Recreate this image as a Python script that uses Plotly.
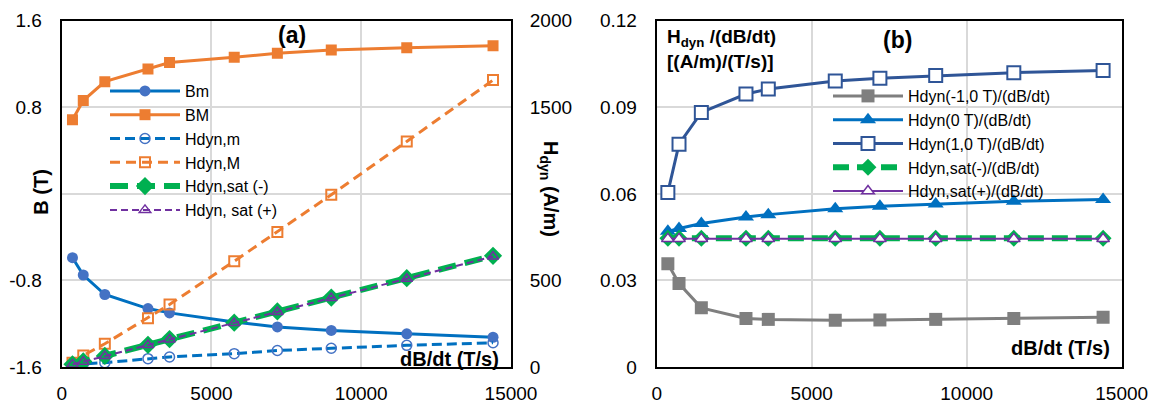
import plotly.graph_objects as go

W, H = 1158, 405

# ---------------- data ----------------
dBdt = [360, 720, 1440, 2880, 3600, 5760, 7200, 9000, 11520, 14400]

# panel (a)
B_m = [-0.59, -0.75, -0.93, -1.06, -1.10, -1.185, -1.23, -1.262, -1.293, -1.325]
B_M = [0.684, 0.862, 1.037, 1.154, 1.213, 1.262, 1.299, 1.330, 1.351, 1.368]
Hdyn_m = [12, 18, 25, 48, 58, 77, 95, 108, 125, 140]
Hdyn_M = [25, 67, 134, 282, 361, 611, 780, 995, 1302, 1657]
Hdyn_sat_neg = [16, 32, 64, 128, 161, 256, 321, 401, 513, 642]
Hdyn_sat_pos = [15, 31, 63, 127, 159, 254, 318, 398, 510, 638]

# panel (b)
r_m10 = [0.0358, 0.0289, 0.0205, 0.0168, 0.0165, 0.0162, 0.0163, 0.0165, 0.0168, 0.0172]
r_0 = [0.0470, 0.0480, 0.0497, 0.0520, 0.0528, 0.0548, 0.0557, 0.0565, 0.0574, 0.0580]
r_p10 = [0.0605, 0.0772, 0.0882, 0.0946, 0.0963, 0.0991, 0.1001, 0.1010, 0.1020, 0.1027]
r_sat_neg = [0.0446, 0.0446, 0.0446, 0.0446, 0.0446, 0.0446, 0.0446, 0.0446, 0.0446, 0.0446]
r_sat_pos = [0.0444, 0.0444, 0.0444, 0.0444, 0.0444, 0.0444, 0.0444, 0.0444, 0.0444, 0.0444]

x_ticks = [0, 5000, 10000, 15000]
x_ticktext = ["0", "5000", "10000", "15000"]
B_ticks = [-1.6, -0.8, 0.8, 1.6]
B_ticktext = ["-1.6", "-0.8", "0.8", "1.6"]
B_hidden_grid = [0]
H_ticks = [0, 500, 1500, 2000]
H_ticktext = ["0", "500", "1500", "2000"]
r_ticks = [0, 0.03, 0.06, 0.09, 0.12]
r_ticktext = ["0", "0.03", "0.06", "0.09", "0.12"]

FONT = "Liberation Sans, Arial, sans-serif"
BLUE = "#0070C0"
BLUE_M = "#4472C4"
ORANGE = "#ED7D31"
GREEN = "#00B050"
PURPLE = "#7030A0"
GRAY = "#7F7F7F"
DKBLUE = "#2F5597"
GRID = "#D9D9D9"


def px(x):
    return x / W


def py(y):
    return 1 - y / H


fig = go.Figure()

# ---------- panel (a) ----------
fig.add_trace(go.Scatter(x=dBdt, y=B_m, name="Bm", mode="lines+markers",
                         line=dict(color=BLUE, width=3),
                         marker=dict(symbol="circle", size=11, color=BLUE_M),
                         xaxis="x", yaxis="y", legend="legend"))
fig.add_trace(go.Scatter(x=dBdt, y=B_M, name="BM", mode="lines+markers",
                         line=dict(color=ORANGE, width=3),
                         marker=dict(symbol="square", size=11, color=ORANGE),
                         xaxis="x", yaxis="y", legend="legend"))
fig.add_trace(go.Scatter(x=dBdt, y=Hdyn_m, name="Hdyn,m", mode="lines+markers",
                         line=dict(color=BLUE, width=3, dash="10px,5px"),
                         marker=dict(symbol="circle-open", size=10, color=BLUE_M,
                                     line=dict(width=1.5, color=BLUE_M)),
                         xaxis="x", yaxis="y2", legend="legend"))
fig.add_trace(go.Scatter(x=dBdt, y=Hdyn_M, name="Hdyn,M", mode="lines+markers",
                         line=dict(color=ORANGE, width=3, dash="10px,6px"),
                         marker=dict(symbol="square-open", size=10, color=ORANGE,
                                     line=dict(width=2, color=ORANGE)),
                         xaxis="x", yaxis="y2", legend="legend"))
fig.add_trace(go.Scatter(x=dBdt, y=Hdyn_sat_neg, name="Hdyn,sat (-)", mode="lines+markers",
                         line=dict(color=GREEN, width=6, dash="18px,9px"),
                         marker=dict(symbol="diamond", size=14, color=GREEN),
                         xaxis="x", yaxis="y2", legend="legend"))
fig.add_trace(go.Scatter(x=dBdt, y=Hdyn_sat_pos, name="Hdyn, sat (+)", mode="lines+markers",
                         line=dict(color=PURPLE, width=2, dash="7px,4px"),
                         marker=dict(symbol="triangle-up-open", size=10, color=PURPLE,
                                     line=dict(width=1.5, color=PURPLE)),
                         xaxis="x", yaxis="y2", legend="legend"))

# ---------- panel (b) ----------
fig.add_trace(go.Scatter(x=dBdt, y=r_m10, name="Hdyn(-1,0 T)/(dB/dt)", mode="lines+markers",
                         line=dict(color=GRAY, width=3),
                         marker=dict(symbol="square", size=13, color=GRAY),
                         xaxis="x2", yaxis="y3", legend="legend2"))
fig.add_trace(go.Scatter(x=dBdt, y=r_0, name="Hdyn(0 T)/(dB/dt)", mode="lines+markers",
                         line=dict(color=BLUE, width=3),
                         marker=dict(symbol="triangle-up", size=14, color=BLUE),
                         xaxis="x2", yaxis="y3", legend="legend2"))
fig.add_trace(go.Scatter(x=dBdt, y=r_p10, name="Hdyn(1,0 T)/(dB/dt)", mode="lines+markers",
                         line=dict(color=DKBLUE, width=3),
                         marker=dict(symbol="square", size=13, color="white",
                                     line=dict(width=2, color=DKBLUE)),
                         xaxis="x2", yaxis="y3", legend="legend2"))
fig.add_trace(go.Scatter(x=dBdt, y=r_sat_neg, name="Hdyn,sat(-)/(dB/dt)", mode="lines+markers",
                         line=dict(color=GREEN, width=6, dash="16px,8px"),
                         marker=dict(symbol="diamond", size=13, color=GREEN),
                         xaxis="x2", yaxis="y3", legend="legend2"))
fig.add_trace(go.Scatter(x=dBdt, y=r_sat_pos, name="Hdyn,sat(+)/(dB/dt)", mode="lines+markers",
                         line=dict(color=PURPLE, width=2),
                         marker=dict(symbol="triangle-up", size=11, color="white",
                                     line=dict(width=1.5, color=PURPLE)),
                         xaxis="x2", yaxis="y3", legend="legend2"))

ydom = [py(367), py(20.7)]
tickfont = dict(family=FONT, size=19, color="black")
hidden_ticks = dict(ticks="outside", ticklen=14, tickcolor="rgba(0,0,0,0)")

xcommon = dict(range=[0, 15000], tickvals=x_ticks, ticktext=x_ticktext, showgrid=True,
               gridcolor=GRID, gridwidth=1.5, automargin=False,
               zeroline=False, showline=True, mirror=True, linecolor="black", linewidth=2,
               tickfont=tickfont, ticks="outside", ticklen=8, tickcolor="rgba(0,0,0,0)")

fig.update_layout(
    width=W, height=H, margin=dict(l=0, r=0, t=0, b=0, autoexpand=False),
    paper_bgcolor="white", plot_bgcolor="white",
    font=dict(family=FONT, color="black"),
    xaxis=dict(domain=[px(61.7), px(511)], anchor="y", **xcommon),
    yaxis=dict(domain=ydom, anchor="x", range=[-1.6, 1.6], tickvals=B_ticks, ticktext=B_ticktext,
               showgrid=True, gridcolor=GRID, gridwidth=1.5, zeroline=False, automargin=False,
               minor=dict(tickvals=B_hidden_grid, showgrid=True, gridcolor=GRID, gridwidth=1.5,
                          ticks=""),
               showline=True, mirror=True, linecolor="black", linewidth=2,
               tickfont=tickfont, **hidden_ticks),
    yaxis2=dict(overlaying="y", anchor="x", side="right", range=[0, 2000], tickvals=H_ticks,
                ticktext=H_ticktext, showgrid=False, zeroline=False, showline=False,
                automargin=False, tickfont=tickfont, **hidden_ticks),
    xaxis2=dict(domain=[px(656.7), px(1121.7)], anchor="y3", **xcommon),
    yaxis3=dict(domain=ydom, anchor="x2", range=[0, 0.12], tickvals=r_ticks, ticktext=r_ticktext,
                showgrid=True, gridcolor=GRID, gridwidth=1.5, zeroline=False, automargin=False,
                showline=True, mirror=True, linecolor="black", linewidth=2,
                tickfont=tickfont, **hidden_ticks),
    legend=dict(x=px(105), y=py(74), xanchor="left", yanchor="top",
                bgcolor="rgba(0,0,0,0)", font=dict(family=FONT, size=16, color="black"),
                itemwidth=70, tracegroupgap=0),
    legend2=dict(x=px(828), y=py(79), xanchor="left", yanchor="top",
                 bgcolor="rgba(0,0,0,0)", font=dict(family=FONT, size=16, color="black"),
                 itemwidth=70, tracegroupgap=0),
)

ann = [
    dict(text="<b>(a)</b>", x=px(292), y=py(35), size=23, xa="center", ya="middle", angle=0),
    dict(text="<b>(b)</b>", x=px(897), y=py(40), size=23, xa="center", ya="middle", angle=0),
    dict(text="<b>B (T)</b>", x=px(40.7), y=py(192), size=20, xa="center", ya="middle", angle=-90),
    dict(text="<b>H<sub>dyn</sub> (A/m)</b>", x=px(550), y=py(189), size=20, xa="center", ya="middle", angle=90),
    dict(text="<b>dB/dt (T/s)</b>", x=px(501), y=py(359), size=20, xa="right", ya="middle", angle=0),
    dict(text="<b>dB/dt (T/s)</b>", x=px(1111.7), y=py(348.3), size=20, xa="right", ya="middle", angle=0),
    dict(text="<b>H<sub>dyn</sub> /(dB/dt)<br>[(A/m)/(T/s)]</b>", x=px(665), y=py(24), size=19,
         xa="left", ya="top", angle=0),
]
for a in ann:
    fig.add_annotation(text=a["text"], x=a["x"], y=a["y"], xref="paper", yref="paper",
                       xanchor=a["xa"], yanchor=a["ya"], textangle=a["angle"], showarrow=False,
                       align="left", font=dict(family=FONT, size=a["size"], color="black"))

fig.write_html("out.html", config={"displayModeBar": False},
               post_script="document.body.style.margin='0';document.body.style.overflow='hidden';")
